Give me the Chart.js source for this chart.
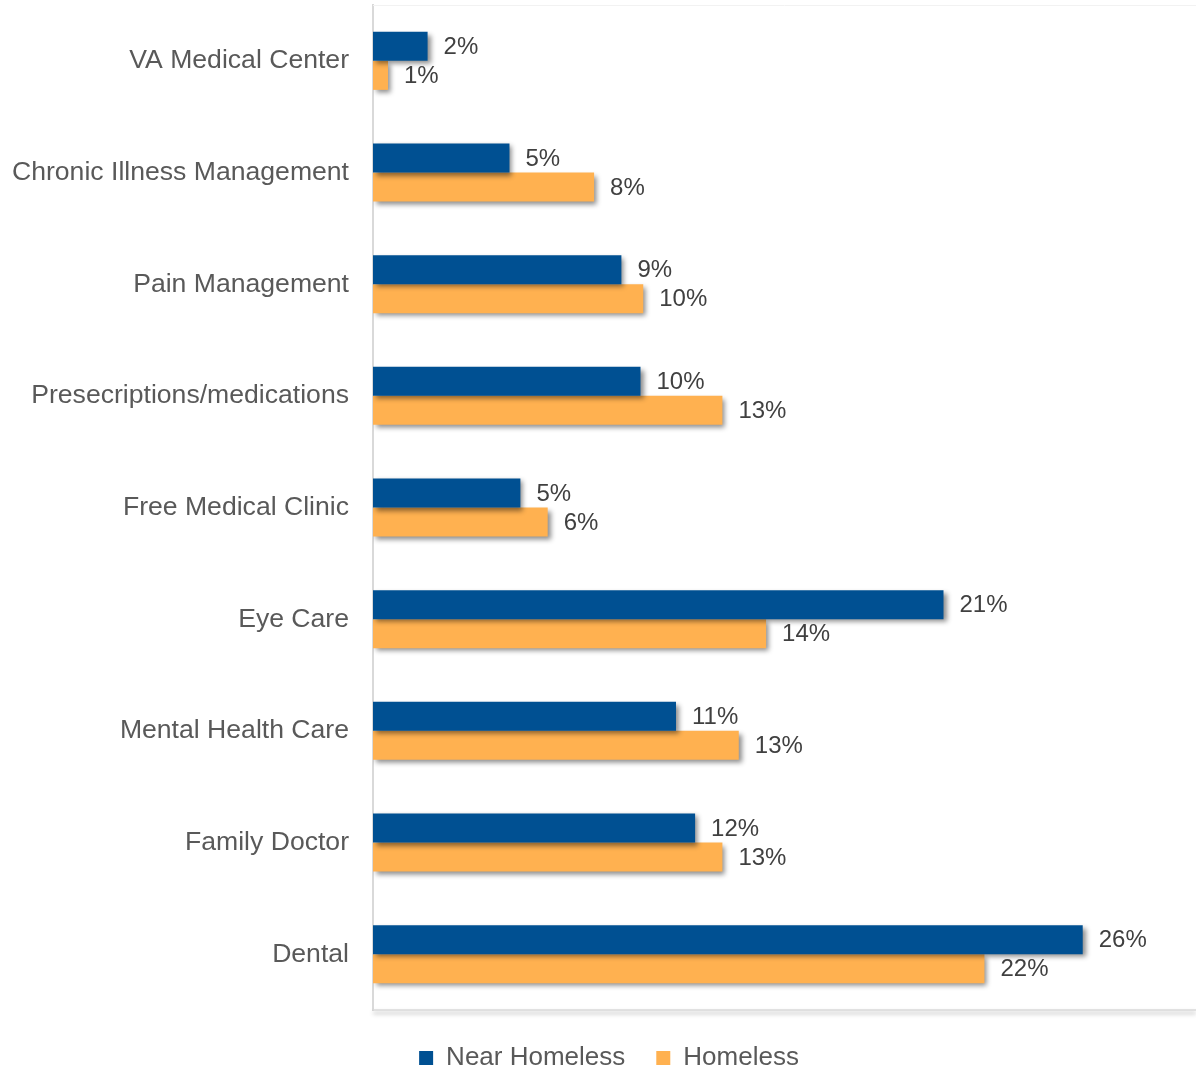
<!DOCTYPE html>
<html lang="en">
<head>
    <meta charset="UTF-8">
    <title>Health Care Needs</title>
    <style>
        body {
            margin: 0;
            padding: 0;
            background: #ffffff;
        }
        #wrap {
            width: 1196px;
            height: 1072px;
        }
    </style>
</head>
<body>
    <div id="wrap">
        <canvas id="chart" width="1196" height="1072"></canvas>
    </div>

    <script src="https://cdn.jsdelivr.net/npm/chart.js"></script>
    <script>
        // categories, top to bottom
        const categories = [
            'VA Medical Center',
            'Chronic Illness Management',
            'Pain Management',
            'Presecriptions/medications',
            'Free Medical Clinic',
            'Eye Care',
            'Mental Health Care',
            'Family Doctor',
            'Dental'
        ];

        // percentages
        const nearHomeless = [2.0, 5.0, 9.1, 9.8, 5.4, 20.9, 11.1, 11.8, 26.0];
        const homeless = [0.55, 8.1, 9.9, 12.8, 6.4, 14.4, 13.4, 12.8, 22.4];

        const seriesNames = ['Near Homeless', 'Homeless'];
        const seriesColors = ['#005092', '#FFB150'];

        const fontFamily = '"Liberation Sans", Arial, sans-serif';

        // drop shadow under the bars
        const barShadow = {
            id: 'barShadow',
            beforeDatasetsDraw(chart) {
                const ctx = chart.ctx;
                ctx.save();
                ctx.shadowColor = 'rgba(0, 0, 0, 0.45)';
                ctx.shadowBlur = 5;
                ctx.shadowOffsetX = 3;
                ctx.shadowOffsetY = 3;
            },
            afterDatasetsDraw(chart) {
                chart.ctx.restore();
            }
        };

        // bottom axis line with a shadow, faint top line
        const frameLines = {
            id: 'frameLines',
            beforeDatasetsDraw(chart) {
                const ctx = chart.ctx;
                const a = chart.chartArea;
                ctx.save();
                ctx.strokeStyle = '#f2f2f2';
                ctx.lineWidth = 1;
                ctx.beginPath();
                ctx.moveTo(a.left, a.top + 0.5);
                ctx.lineTo(chart.width, a.top + 0.5);
                ctx.stroke();

                ctx.shadowColor = 'rgba(0, 0, 0, 0.35)';
                ctx.shadowBlur = 4;
                ctx.shadowOffsetY = 3;
                ctx.strokeStyle = '#d9d9d9';
                ctx.lineWidth = 1.5;
                ctx.beginPath();
                ctx.moveTo(a.left, a.bottom);
                ctx.lineTo(chart.width, a.bottom);
                ctx.stroke();
                ctx.restore();
            }
        };

        // legend sits a little right of the canvas centre
        const legendShift = {
            id: 'legendShift',
            afterLayout(chart) {
                chart.legend.left += 11;
                chart.legend.right += 11;
            }
        };

        // percent labels at the end of each bar
        const valueLabels = {
            id: 'valueLabels',
            afterDatasetsDraw(chart) {
                const ctx = chart.ctx;
                ctx.save();
                ctx.font = '24px ' + fontFamily;
                ctx.fillStyle = '#404040';
                ctx.textAlign = 'left';
                ctx.textBaseline = 'middle';
                chart.data.datasets.forEach((ds, i) => {
                    chart.getDatasetMeta(i).data.forEach((bar, j) => {
                        ctx.fillText(Math.round(ds.data[j]) + '%', bar.x + 16, bar.y + 1);
                    });
                });
                ctx.restore();
            }
        };

        const ctx = document.getElementById('chart').getContext('2d');
        new Chart(ctx, {
            type: 'bar',
            data: {
                labels: categories,
                datasets: [
                    {
                        label: seriesNames[0],
                        data: nearHomeless,
                        backgroundColor: seriesColors[0],
                        categoryPercentage: 0.52,
                        barPercentage: 1.0
                    },
                    {
                        label: seriesNames[1],
                        data: homeless,
                        backgroundColor: seriesColors[1],
                        categoryPercentage: 0.52,
                        barPercentage: 1.0
                    }
                ]
            },
            options: {
                indexAxis: 'y',
                responsive: false,
                animation: false,
                layout: {
                    padding: { top: 5, right: 0, left: 0, bottom: -9 }
                },
                scales: {
                    x: {
                        min: 0,
                        max: 30.15,
                        ticks: { display: false },
                        grid: { display: false },
                        border: { display: false },
                        afterFit(scale) { scale.height = 4; }
                    },
                    y: {
                        ticks: {
                            color: '#595959',
                            font: { family: fontFamily, size: 26.6 },
                            padding: 16
                        },
                        grid: { display: false },
                        border: { color: '#d9d9d9', width: 2 },
                        afterFit(scale) {
                            scale.width = 373;
                            scale.paddingTop = 0;
                            scale.paddingBottom = 0;
                        }
                    }
                },
                plugins: {
                    legend: {
                        position: 'bottom',
                        labels: {
                            color: '#595959',
                            font: { family: fontFamily, size: 26 },
                            boxWidth: 14,
                            boxHeight: 14,
                            padding: 31
                        }
                    },
                    tooltip: { enabled: false }
                }
            },
            plugins: [frameLines, barShadow, valueLabels, legendShift]
        });
    </script>
</body>
</html>
